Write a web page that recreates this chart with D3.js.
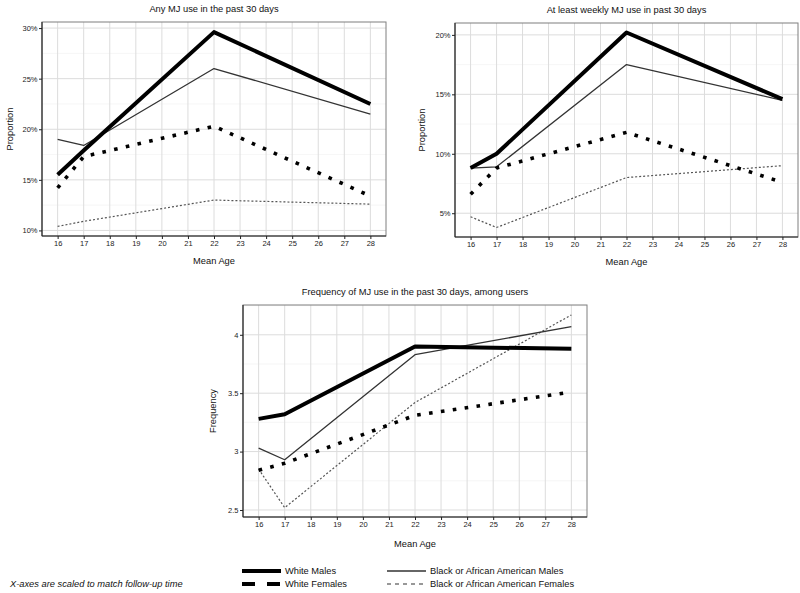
<!DOCTYPE html>
<html><head><meta charset="utf-8">
<script src="https://cdn.jsdelivr.net/npm/d3@7"></script>
<style>
body{margin:0;background:#fff;}
svg{display:block;font-family:"Liberation Sans",Arial,sans-serif;}
</style></head>
<body><svg id="c" width="800" height="593"></svg>
<script>
// ---- data ----
const ages = [16, 17, 22, 28];
const seriesNames = ["White Males", "White Females", "Black or African American Males", "Black or African American Females"];

const anyUse_WM = [15.5, 17.9, 29.6, 22.5];
const anyUse_WF = [14.2, 17.3, 20.3, 13.4];
const anyUse_BM = [19.0, 18.4, 26.0, 21.5];
const anyUse_BF = [10.4, 10.9, 13.0, 12.6];

const weekly_WM = [8.8, 10.0, 20.2, 14.6];
const weekly_WF = [6.6, 8.8, 11.8, 7.6];
const weekly_BM = [8.8, 8.9, 17.5, 14.5];
const weekly_BF = [4.7, 3.8, 8.0, 9.0];

const freq_WM = [3.28, 3.32, 3.90, 3.88];
const freq_WF = [2.84, 2.90, 3.31, 3.51];
const freq_BM = [3.03, 2.93, 3.83, 4.07];
const freq_BF = [2.85, 2.52, 3.42, 4.17];

const xTicks = [16,17,18,19,20,21,22,23,24,25,26,27,28];
const pctTicks1 = [10, 15, 20, 25, 30];
const pctTicks2 = [5, 10, 15, 20];
const freqTicks = [2.5, 3, 3.5, 4];

const titles = ["Any MJ use in the past 30 days", "At least weekly MJ use in past 30 days", "Frequency of MJ use in the past 30 days, among users"];
const note = "X-axes are scaled to match follow-up time";

// ---- styles ----
const styles = {
  "White Males": {w: 4, c: "#000", dash: null},
  "White Females": {w: 3.6, c: "#000", dash: "3.6,8.4"},
  "Black or African American Males": {w: 1.3, c: "#333", dash: null},
  "Black or African American Females": {w: 1.2, c: "#555", dash: "2,2"}
};

const svg = d3.select("#c");
const FS = 9.3;

function panel(cfg) {
  const {left, right, top, bottom, ydom, yticks, fmt, title, ylab, data} = cfg;
  const x = d3.scaleLinear().domain([15.4, 28.6]).range([left, right]);
  const y = d3.scaleLinear().domain(ydom).range([bottom, top]);
  const g = svg.append("g");
  const step = yticks[1] - yticks[0];
  const minors = [];
  for (let v = yticks[0] - step / 2; v <= ydom[1]; v += step) if (v >= ydom[0]) minors.push(v);
  g.selectAll(".mn").data(minors).join("line")
    .attr("x1", left).attr("x2", right).attr("y1", d => y(d)).attr("y2", d => y(d))
    .attr("stroke", "#f0f0f0").attr("stroke-width", 0.6);
  g.selectAll(".mjh").data(yticks).join("line")
    .attr("x1", left).attr("x2", right).attr("y1", d => y(d)).attr("y2", d => y(d))
    .attr("stroke", "#dcdcdc").attr("stroke-width", 1);
  g.selectAll(".mjv").data(xTicks).join("line")
    .attr("y1", top).attr("y2", bottom).attr("x1", d => x(d)).attr("x2", d => x(d))
    .attr("stroke", "#dcdcdc").attr("stroke-width", 1);
  g.append("rect").attr("x", left).attr("y", top).attr("width", right - left).attr("height", bottom - top)
    .attr("fill", "none").attr("stroke", "#7f7f7f").attr("stroke-width", 1);
  const ax = g.append("g").attr("transform", `translate(0,${bottom})`)
    .call(d3.axisBottom(x).tickValues(xTicks).tickSize(3).tickPadding(2).tickFormat(d3.format("d")));
  const ay = g.append("g").attr("transform", `translate(${left},0)`)
    .call(d3.axisLeft(y).tickValues(yticks).tickSize(3).tickPadding(1.5).tickFormat(fmt));
  [ax, ay].forEach(a => {
    a.select(".domain").attr("stroke", "#222").attr("stroke-width", 1.1);
    a.selectAll(".tick line").attr("stroke", "#222");
    a.selectAll("text").attr("font-size", 7.5).attr("fill", "#222").attr("font-family", "Liberation Sans, Arial, sans-serif");
  });
  ax.select(".domain").attr("d", `M${left},0H${right}`);
  ay.select(".domain").attr("d", `M0,${top}V${bottom}`);
  g.append("text").attr("x", (left + right) / 2).attr("y", top - 10).attr("text-anchor", "middle")
    .attr("font-size", FS).attr("fill", "#111").text(title);
  g.append("text").attr("x", (left + right) / 2).attr("y", bottom + cfg.xlabDy).attr("text-anchor", "middle")
    .attr("font-size", FS).attr("fill", "#111").text("Mean Age");
  g.append("text").attr("transform", `translate(${cfg.ylabX},${(top + bottom) / 2}) rotate(-90)`)
    .attr("text-anchor", "middle").attr("font-size", FS).attr("fill", "#111").text(ylab);
  const line = d3.line().x((d, i) => x(ages[i])).y(d => y(d));
  const order = ["Black or African American Females", "Black or African American Males", "White Females", "White Males"];
  order.forEach(name => {
    const s = styles[name];
    g.append("path").attr("d", line(data[name])).attr("fill", "none")
      .attr("stroke", s.c).attr("stroke-width", s.w)
      .attr("stroke-dasharray", s.dash).attr("stroke-linejoin", "round");
  });
}

const pct = d => d + "%";
panel({left: 42, right: 386, top: 22, bottom: 236, ydom: [9.45, 30.6], yticks: pctTicks1, fmt: pct,
  title: titles[0], ylab: "Proportion", ylabX: 13, xlabDy: 28,
  data: {"White Males": anyUse_WM, "White Females": anyUse_WF, "Black or African American Males": anyUse_BM, "Black or African American Females": anyUse_BF}});
panel({left: 455, right: 798, top: 23, bottom: 237, ydom: [3.0, 21.0], yticks: pctTicks2, fmt: pct,
  title: titles[1], ylab: "Proportion", ylabX: 425, xlabDy: 28,
  data: {"White Males": weekly_WM, "White Females": weekly_WF, "Black or African American Males": weekly_BM, "Black or African American Females": weekly_BF}});
panel({left: 243, right: 587, top: 305, bottom: 517, ydom: [2.44, 4.255], yticks: freqTicks, fmt: d => String(d),
  title: titles[2], ylab: "Frequency", ylabX: 216, xlabDy: 30,
  data: {"White Males": freq_WM, "White Females": freq_WF, "Black or African American Males": freq_BM, "Black or African American Females": freq_BF}});

// legend
const lg = svg.append("g");
const legendItems = [
  {name: seriesNames[0], x: 242, y: 571, w: 4, c: "#000", dash: null},
  {name: seriesNames[1], x: 242, y: 584, w: 4, c: "#000", dash: "13,12"},
  {name: seriesNames[2], x: 387, y: 571, w: 1.3, c: "#333", dash: null},
  {name: seriesNames[3], x: 387, y: 584, w: 1.2, c: "#333", dash: "4,4"}
];
legendItems.forEach(it => {
  lg.append("line").attr("x1", it.x).attr("x2", it.x + 39).attr("y1", it.y).attr("y2", it.y)
    .attr("stroke", it.c).attr("stroke-width", it.w).attr("stroke-dasharray", it.dash);
  lg.append("text").attr("x", it.x + 43).attr("y", it.y).attr("dy", "0.35em")
    .attr("font-size", FS).attr("fill", "#111").text(it.name);
});
lg.append("text").attr("x", 10).attr("y", 584).attr("dy", "0.35em").attr("font-size", FS)
  .attr("font-style", "italic").attr("fill", "#111").text(note);
</script></body></html>
